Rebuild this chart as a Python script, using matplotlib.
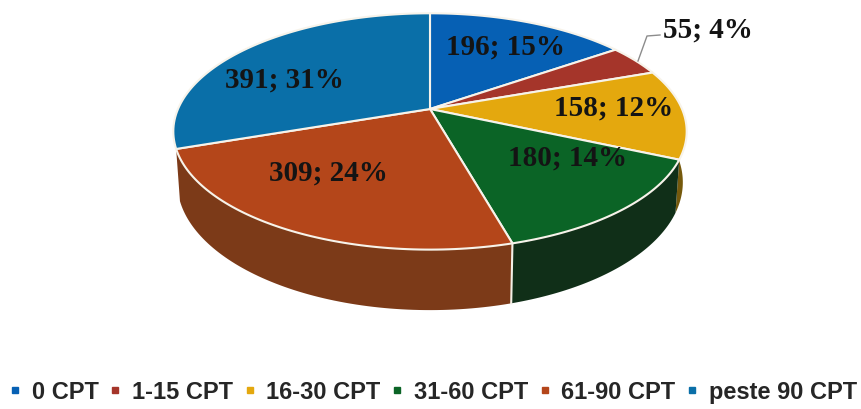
import numpy as np
import matplotlib
matplotlib.use('Agg')
import matplotlib.pyplot as plt
from matplotlib.lines import Line2D

# values from the chart
categories = ['0 CPT', '1-15 CPT', '16-30 CPT', '31-60 CPT', '61-90 CPT', 'peste 90 CPT']
counts = [196, 55, 158, 180, 309, 391]
percents = [15, 4, 12, 14, 24, 31]

colors = ['#0660b4', '#a5352a', '#e4a80e', '#0b6426', '#b4461a', '#0a6fa8']
side_colors = ['#03305a', '#5a1c16', '#75590c', '#102f18', '#7c3a18', '#054060']
label_pos = [(506, 47), (708, 30), (614, 108), (568, 158), (328, 173), (284, 80)]

# perspective of the disc, fitted to the picture
cx, cy = 430, 110
a, d, g = 252, -93, 0.19
depth = 49
shrink = 0.985  # lower rim is a bit narrower


def project(t, drop=0, scale=1.0):
    X, Y = np.sin(t), np.cos(t)
    w = 1 + g * Y
    return cx + scale * a * X / w, (d * Y + cy + drop) / w


fig = plt.figure(figsize=(8.61, 4.10), dpi=100)
ax = fig.add_axes([0, 0, 1, 1])
ax.set_xlim(0, 861)
ax.set_ylim(410, 0)
ax.axis('off')

total = sum(counts)
edges = np.concatenate([[0], np.cumsum(counts)]) / total * 2 * np.pi

# side wall first, top surface goes over it (back slices have no visible wall)
for i in range(len(counts)):
    if np.cos((edges[i] + edges[i + 1]) / 2) >= 0:
        continue
    t = np.linspace(edges[i], edges[i + 1], 80)
    x1, y1 = project(t)
    x2, y2 = project(t, depth, shrink)
    ax.fill(np.r_[x1, x2[::-1]], np.r_[y1, y2[::-1]], color=side_colors[i], lw=0, zorder=1)

for e in edges:
    # only the front seams show
    if np.cos(e) < -0.5:
        x1, y1 = project(e)
        x2, y2 = project(e, depth, shrink)
        ax.plot([x1, x2], [y1, y2], color='#f4efe6', lw=1.5, zorder=2)

for i in range(len(counts)):
    t = np.linspace(edges[i], edges[i + 1], 80)
    x, y = project(t)
    ax.fill(np.r_[cx, x], np.r_[cy, y], facecolor=colors[i], edgecolor='#f7f3ea',
            lw=1.5, joinstyle='round', zorder=3)

# leader line of the small slice
ax.plot([638, 647, 660], [62, 37, 36], color='#8c8c8c', lw=1, zorder=4)

for i in range(len(counts)):
    ax.text(label_pos[i][0], label_pos[i][1], f'{counts[i]}; {percents[i]}%',
            family='Liberation Serif', weight='bold', fontsize=21, color='#141414',
            ha='center', va='center', zorder=5)

handles = [Line2D([], [], ls='', marker='s', ms=4, color=c) for c in colors]
ax.legend(handles, categories, ncol=6, loc='center', bbox_to_anchor=(430 / 861, 1 - 393 / 410),
          frameon=False, prop={'family': 'Liberation Sans', 'weight': 'bold', 'size': 17},
          handletextpad=0.2, columnspacing=0.21, handlelength=1.0, labelcolor='#262626',
          borderpad=0, borderaxespad=0)

fig.savefig('out.png', dpi=100)
